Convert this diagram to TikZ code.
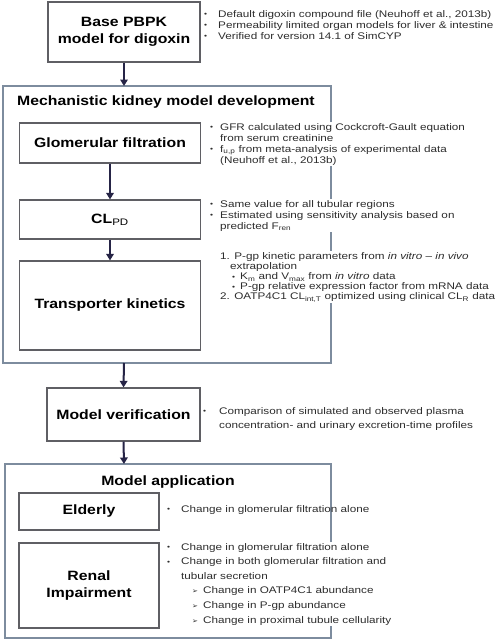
\documentclass[tikz,border=0pt]{standalone}
\usepackage{fontspec}
\setmainfont{Liberation Sans}
\newfontfamily\ttlfont[FakeStretch=1.17]{Liberation Sans}
\newfontfamily\bodyfont[FakeStretch=1.22,Ligatures=TeX]{Liberation Sans}
\newfontfamily\symfont{DejaVu Sans}
\usetikzlibrary{arrows.meta}
\definecolor{outerc}{RGB}{125,140,158}
\definecolor{innerc}{RGB}{95,95,100}
\definecolor{arrc}{RGB}{38,36,70}
\definecolor{txtc}{RGB}{45,45,45}
\newcommand{\bul}[1]{\makebox[#1][l]{\raisebox{0.5pt}{\scriptsize\textbullet}}}
\newcommand{\ind}[1]{\hspace*{#1}}
\newcommand{\arw}{\makebox[11pt][l]{{\symfont\scriptsize ➢}}}
\tikzset{
  outerbox/.style={draw=outerc, line width=1.4pt, fill=white},
  innerbox/.style={draw=innerc, line width=1.2pt, fill=white, font=\ttlfont\bfseries\fontsize{13.5}{17}\selectfont, align=center, text=black, inner sep=0pt},
  ttl/.style={font=\ttlfont\bfseries\fontsize{13.5}{17}\selectfont, inner sep=0pt, text=black},
  txt/.style={anchor=north west, align=left, fill=white, inner sep=1pt, text=txtc, font=\bodyfont\fontsize{9.6}{11}\selectfont},
  flow/.style={draw=arrc, line width=2pt, -{Triangle[width=7.5pt,length=6.5pt]}},
}
\begin{document}
\begin{tikzpicture}[x=1pt,y=-1pt]
\useasboundingbox (0,0) rectangle (500,640);
\fill[white] (0,0) rectangle (500,640);
% outer containers
\draw[outerbox] (3,86) rectangle (331,363);
\draw[outerbox] (5,464) rectangle (331,638);
\coordinate (o1top) at (124,86);
\coordinate (o1bot) at (124,363);
\coordinate (o2top) at (124,464);
\node[ttl, anchor=west] (t1) at (17,102) {Mechanistic kidney model development};
\node[ttl] (t2) at (168,482) {Model application};
% boxes
\node[innerbox, minimum width=152pt, minimum height=60pt] (base) at (124,32) {Base PBPK\\model for digoxin};
\node[innerbox, minimum width=181pt, minimum height=40pt] (gf) at (110,143) {Glomerular filtration};
\node[innerbox, minimum width=181pt, minimum height=39pt] (cl) at (110,219.5) {CL\textsubscript{\normalfont\bodyfont PD}};
\node[innerbox, minimum width=181pt, minimum height=89pt] (tk) at (110,305.5) {Transporter kinetics};
\node[innerbox, minimum width=153pt, minimum height=53pt] (mv) at (123.5,414.5) {Model verification};
\node[innerbox, minimum width=140pt, minimum height=37pt] (eld) at (89,511.5) {Elderly};
\node[innerbox, minimum width=140pt, minimum height=85pt] (ri) at (89,585.5) {Renal\\Impairment};
% texts
\node[txt] (bt) at (203,9) {\bul{14pt}Default digoxin compound file (Neuhoff et al., 2013b)\\
\bul{14pt}Permeability limited organ models for liver \& intestine\\
\bul{14pt}Verified for version 14.1 of SimCYP};
\node[txt] (gt) at (209,122) {\bul{10pt}GFR calculated using Cockcroft-Gault equation\\
\ind{10pt}from serum creatinine\\
\bul{10pt}f\textsubscript{u,p} from meta-analysis of experimental data\\
\ind{10pt}(Neuhoff et al., 2013b)};
\node[txt] (ct) at (209,199) {\bul{10pt}Same value for all tubular regions\\
\bul{10pt}Estimated using sensitivity analysis based on\\
\ind{10pt}predicted F\textsubscript{ren}};
\node[txt, font=\bodyfont\fontsize{9.6}{10.2}\selectfont] (tt) at (219,251) {1. P-gp kinetic parameters from \textit{in vitro} – \textit{in vivo}\\
\ind{10pt}extrapolation\\
\ind{12pt}\bul{8pt}K\textsubscript{m} and V\textsubscript{max} from \textit{in vitro} data\\
\ind{12pt}\bul{8pt}P-gp relative expression factor from mRNA data\\
2. OATP4C1 CL\textsubscript{int,T} optimized using clinical CL\textsubscript{R} data};
\node[txt, font=\bodyfont\fontsize{9.6}{14.5}\selectfont] (mt) at (202,406) {\bul{16pt}Comparison of simulated and observed plasma\\
\ind{16pt}concentration- and urinary excretion-time profiles};
\node[txt, fill=none] (et) at (166,504) {\bul{14pt}Change in glomerular filtration alone};
\node[txt, font=\bodyfont\fontsize{9.6}{14.6}\selectfont] (rt) at (166,542) {\bul{14pt}Change in glomerular filtration alone\\
\bul{14pt}Change in both glomerular filtration and\\
\ind{14pt}tubular secretion\\
\ind{25pt}\arw Change in OATP4C1 abundance\\
\ind{25pt}\arw Change in P-gp abundance\\
\ind{25pt}\arw Change in proximal tubule cellularity};
% connectors
\draw[flow] (base.south) -- (o1top);
\draw[flow] (gf.south) -- (cl.north);
\draw[flow] (cl.south) -- (tk.north);
\draw[flow] (o1bot) -- (mv.north);
\draw[flow] (mv.south) -- (o2top);
\end{tikzpicture}
\end{document}
